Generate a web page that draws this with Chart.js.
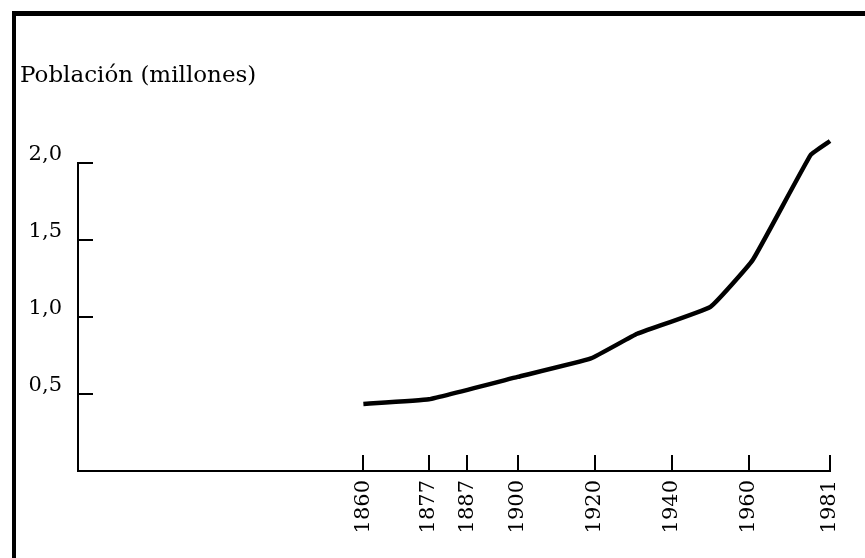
<!DOCTYPE html>
<html>
<head>
<meta charset="utf-8">
<script src="https://cdn.jsdelivr.net/npm/chart.js@4"></script>
<style>
  html, body { margin: 0; padding: 0; background: #fff; }
  #wrap { width: 865px; height: 558px; position: relative; }
</style>
</head>
<body>
<div id="wrap"><canvas id="popChart"></canvas></div>
<script>
// Población (millones) por año
const years = [1860, 1877, 1900, 1919, 1931, 1950, 1961, 1976, 1981];
const population = [0.435, 0.465, 0.61, 0.73, 0.89, 1.065, 1.37, 2.05, 2.14];
const xTickYears = [1860, 1877, 1887, 1900, 1920, 1940, 1960, 1981];
const yTickValues = [0.5, 1.0, 1.5, 2.0];

const serif = "'DejaVu Serif', serif";

// marco grueso arriba e izquierda
const framePlugin = {
  id: 'frame',
  beforeDraw(chart) {
    const c = chart.ctx;
    c.save();
    c.fillStyle = '#fff';
    c.fillRect(0, 0, chart.width, chart.height);
    c.fillStyle = '#000';
    c.fillRect(12, 11, chart.width - 12, 5);
    c.fillRect(12, 11, 4, chart.height - 11);
    c.restore();
  }
};

// marcas hacia dentro del área
const innerTicks = {
  id: 'innerTicks',
  afterDraw(chart) {
    const c = chart.ctx, x = chart.scales.x, y = chart.scales.y;
    const a = chart.chartArea;
    c.save();
    c.strokeStyle = '#000';
    c.lineWidth = 2;
    c.beginPath();
    x.ticks.forEach(t => {
      const px = Math.round(x.getPixelForValue(t.value));
      c.moveTo(px, a.bottom);
      c.lineTo(px, a.bottom - 16);
    });
    y.ticks.forEach(t => {
      const py = Math.round(y.getPixelForValue(t.value));
      c.moveTo(a.left, py);
      c.lineTo(a.left + 15, py);
    });
    c.stroke();
    c.restore();
  }
};

new Chart(document.getElementById('popChart'), {
  type: 'line',
  data: {
    datasets: [{
      data: years.map((yr, i) => ({ x: yr, y: population[i] })),
      borderColor: '#000',
      borderWidth: 4.5,
      pointRadius: 0,
      tension: 0.1,
      fill: false,
      clip: false
    }]
  },
  options: {
    responsive: true,
    maintainAspectRatio: false,
    animation: false,
    layout: { padding: { left: 20, right: 35, top: 0, bottom: 0 } },
    plugins: {
      legend: { display: false },
      tooltip: { enabled: false },
      title: {
        display: true,
        text: 'Población (millones)',
        align: 'start',
        color: '#000',
        font: { family: serif, size: 23, weight: 'normal' },
        padding: { top: 62, bottom: 73 }
      }
    },
    scales: {
      x: {
        type: 'linear',
        min: 1786,
        max: 1981,
        grid: { display: false, drawTicks: false },
        border: { display: true, color: '#000', width: 2 },
        afterBuildTicks: s => { s.ticks = xTickYears.map(v => ({ value: v })); },
        afterFit: s => { s.height = 87; },
        ticks: {
          color: '#000',
          font: { family: serif, size: 21 },
          minRotation: 90,
          maxRotation: 90,
          padding: 9,
          callback: v => String(v)
        }
      },
      y: {
        min: 0,
        max: 2.0,
        grid: { display: false, drawTicks: false },
        border: { display: true, color: '#000', width: 2 },
        afterBuildTicks: s => { s.ticks = yTickValues.map(v => ({ value: v })); },
        afterFit: s => { s.width = 58; },
        ticks: {
          color: '#000',
          font: { family: serif, size: 21 },
          padding: 16,
          labelOffset: -8,
          callback: v => v.toFixed(1).replace('.', ',')
        }
      }
    }
  },
  plugins: [framePlugin, innerTicks]
});
</script>
</body>
</html>
